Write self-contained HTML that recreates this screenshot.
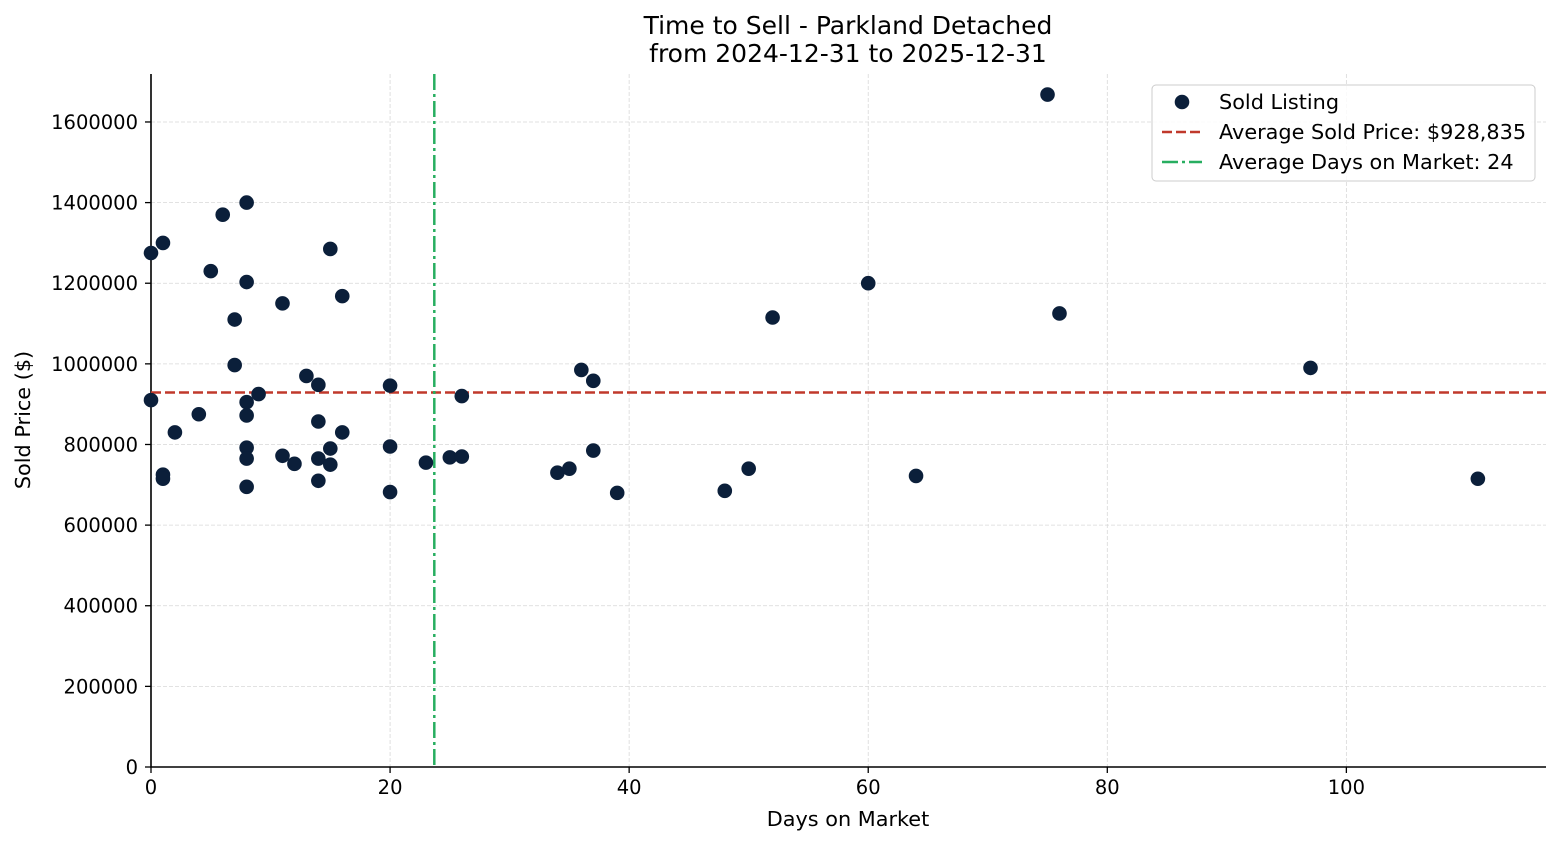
<!DOCTYPE html>
<html><head><meta charset="utf-8"><style>
body{margin:0;background:#fff;}
svg{font-family:"DejaVu Sans","Liberation Sans",sans-serif;}
</style></head><body>
<svg id="chart" width="1560" height="845" xmlns="http://www.w3.org/2000/svg">
<text x="848" y="34" text-anchor="middle" font-size="25" fill="#000">Time to Sell - Parkland Detached</text>
<text x="848" y="62" text-anchor="middle" font-size="25" fill="#000">from 2024-12-31 to 2025-12-31</text>
<g id="grid"></g><g id="ticks"></g><g id="marks"></g>
<text x="848" y="826" text-anchor="middle" font-size="20.8">Days on Market</text>
<text transform="translate(30,420) rotate(-90)" text-anchor="middle" font-size="20.8">Sold Price ($)</text>
<g>
<rect x="1152" y="85" width="383" height="96" rx="4" fill="#fff" fill-opacity="0.85" stroke="#ccc"/>
<circle cx="1182" cy="102" r="7.3" fill="#0b1f3a"/>
<text x="1219" y="109" font-size="20.8">Sold Listing</text>
<line x1="1162" y1="132" x2="1202" y2="132" stroke="#c0392b" stroke-width="2.5" stroke-dasharray="10,4"/>
<text x="1219" y="139" font-size="20.8">Average Sold Price: $928,835</text>
<line x1="1162" y1="162" x2="1202" y2="162" stroke="#27ae60" stroke-width="2.5" stroke-dasharray="16,4,3,4"/>
<text x="1219" y="169" font-size="20.8">Average Days on Market: 24</text>
</g>
</svg>
<script>
const days=[0,1,0,1,1,2,4,5,6,7,7,8,8,8,8,8,8,8,9,11,11,12,13,14,14,14,14,15,15,15,16,16,20,20,20,23,25,26,26,34,35,36,37,37,39,48,50,52,60,64,75,76,97,111];
const prices=[1275000,1300000,910000,725000,715000,830000,875000,1230000,1370000,1110000,997000,1400000,1203000,905000,872000,792000,765000,695000,925000,1150000,772000,752000,970000,948000,857000,765000,710000,1285000,790000,750000,1168000,830000,946000,795000,682000,755000,768000,920000,770000,730000,740000,985000,958000,785000,680000,685000,740000,1115000,1200000,722000,1668000,1125000,990000,715000];
const xTicks=[0,20,40,60,80,100];
const yTicks=[0,200000,400000,600000,800000,1000000,1200000,1400000,1600000];
const avgPrice=928835, avgDays=23.7;
const X0=151,X1=1546,Y0=767,Y1=74,xMax=116.7,yMax=1719000;
const xs=v=>X0+v/xMax*(X1-X0), ys=v=>Y0-v/yMax*(Y0-Y1);
const NS="http://www.w3.org/2000/svg";
function mk(p,t,a){const e=document.createElementNS(NS,t);for(const k in a)e.setAttribute(k,a[k]);p.appendChild(e);return e;}
const grid=document.getElementById('grid'),ticks=document.getElementById('ticks'),marks=document.getElementById('marks');
xTicks.forEach(t=>{const x=xs(t);
 const g=mk(grid,'line',{x1:x,x2:x,y1:Y1,y2:Y0,stroke:'#d8d8d8','stroke-dasharray':'4,2','stroke-width':0.8});
 
 mk(ticks,'line',{x1:x,x2:x,y1:Y0,y2:Y0+6,stroke:'#000','stroke-width':1.3});
 const l=mk(ticks,'text',{x:x,y:Y0+27,'text-anchor':'middle','font-size':19.5});l.textContent=t;
 });
yTicks.forEach(t=>{const y=ys(t);
 const g=mk(grid,'line',{x1:X0,x2:X1,y1:y,y2:y,stroke:'#d8d8d8','stroke-dasharray':'4,2','stroke-width':0.8});
 
 mk(ticks,'line',{x1:X0-6,x2:X0,y1:y,y2:y,stroke:'#000','stroke-width':1.3});
 const l=mk(ticks,'text',{x:X0-13,y:y+7,'text-anchor':'end','font-size':19.5});l.textContent=t;
 });
const ax=mk(ticks,'path',{d:`M${X0},${Y1}V${Y0}H${X1}`,fill:'none',stroke:'#000','stroke-width':1.6});

const h=mk(marks,'line',{x1:X0,x2:X1,y1:ys(avgPrice),y2:ys(avgPrice),stroke:'#c0392b','stroke-width':2.5,'stroke-dasharray':'10,4'});

const v=mk(marks,'line',{x1:xs(avgDays),x2:xs(avgDays),y1:Y1,y2:Y0,stroke:'#27ae60','stroke-width':2.5,'stroke-dasharray':'16,4,3,4'});

days.forEach((d,i)=>{const c=mk(marks,'circle',{cx:xs(d),cy:ys(prices[i]),r:7.3,fill:'#0b1f3a'});
 
 });
</script>
</body></html>
